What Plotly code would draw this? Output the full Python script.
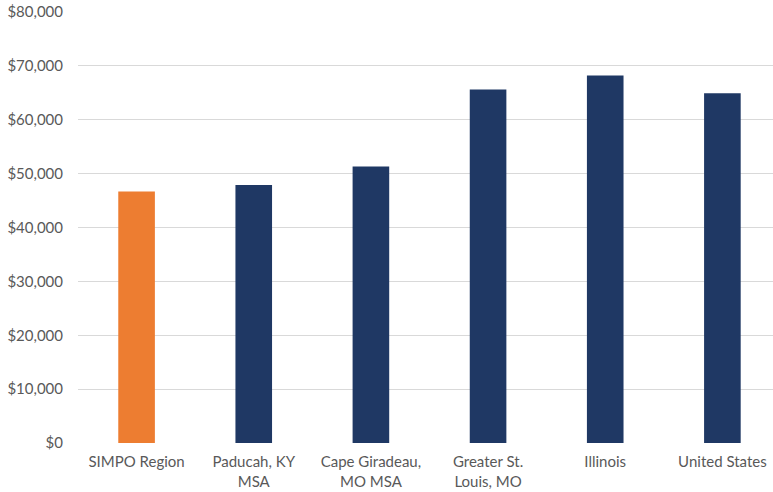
import plotly.graph_objects as go

categories = ["SIMPO Region", "Paducah, KY<br>MSA", "Cape Giradeau,<br>MO MSA",
              "Greater St.<br>Louis, MO", "Illinois", "United States"]
values = [46700, 47900, 51300, 65600, 68200, 64900]
colors = ["#ED7D31", "#1F3864", "#1F3864", "#1F3864", "#1F3864", "#1F3864"]
tick_vals = [0, 10000, 20000, 30000, 40000, 50000, 60000, 70000, 80000]
tick_text = ["$0", "$10,000", "$20,000", "$30,000", "$40,000", "$50,000",
             "$60,000", "$70,000", "$80,000"]

fig = go.Figure(go.Bar(
    x=list(range(len(categories))), y=values,
    marker=dict(color=colors, line=dict(width=0)),
    width=0.3125,
))

font = dict(family="Lato, Carlito, Calibri, sans-serif", size=15, color="#595959")

fig.update_layout(
    width=773, height=492,
    margin=dict(l=78, r=0, t=12, b=49),
    plot_bgcolor="white", paper_bgcolor="white",
    showlegend=False,
    font=font,
    xaxis=dict(
        range=[-0.5, 5.432],
        tickmode="array", tickvals=list(range(len(categories))), ticktext=categories,
        showgrid=False, zeroline=False, showline=False,
        ticks="", ticklabelstandoff=8,
        tickfont=font,
    ),
    yaxis=dict(
        range=[0, 80000],
        tickmode="array", tickvals=tick_vals, ticktext=tick_text,
        showgrid=True, gridcolor="#D9D9D9", gridwidth=1,
        zeroline=False, showline=False,
        ticks="", ticklabelstandoff=14,
        tickfont=font,
    ),
)

fig.write_html("out.html")
